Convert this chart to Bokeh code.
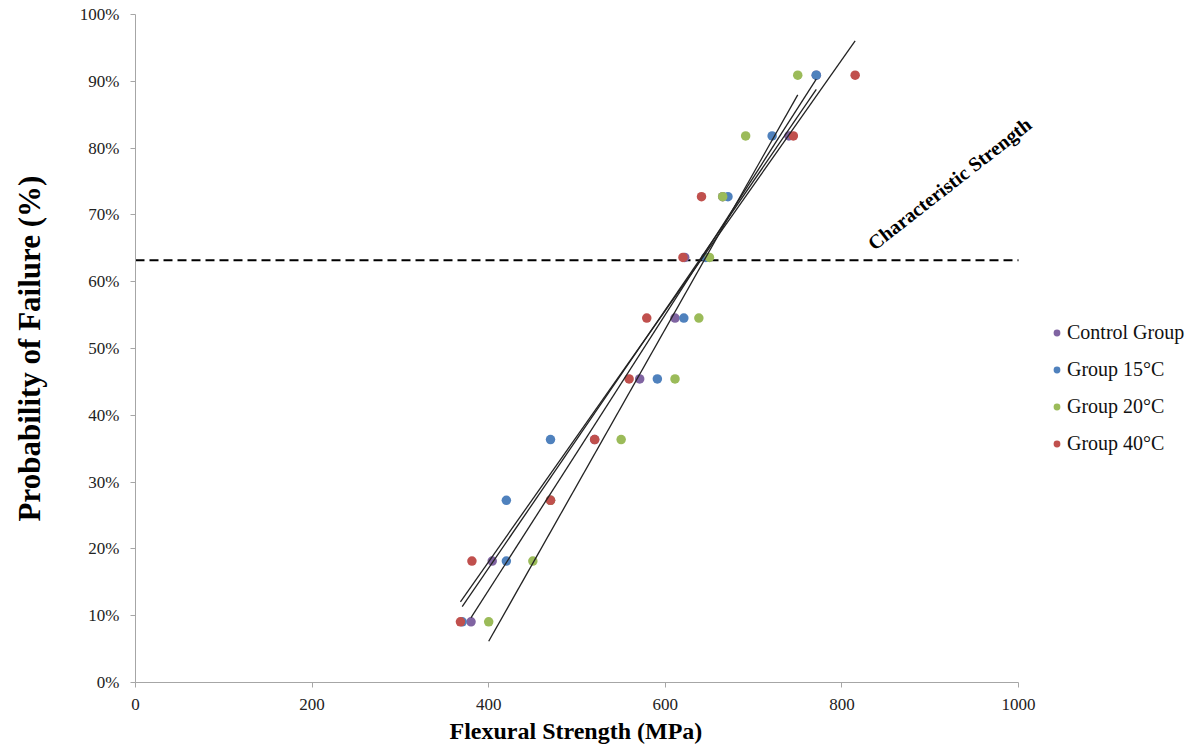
import numpy as np
from bokeh.plotting import figure
from bokeh.models import Range1d, FixedTicker, PrintfTickFormatter, Legend, LegendItem, Label, Title
from bokeh.embed import file_html
from bokeh.resources import INLINE

# ---- data ----
groups = ["Control Group", "Group 15°C", "Group 20°C", "Group 40°C"]
colors = ["#8064A2", "#4F81BD", "#9BBB59", "#C0504D"]
prob_failure = [9.09, 18.18, 27.27, 36.36, 45.45, 54.55, 63.64, 72.73, 81.82, 90.91]
control = [380, 404, 470, 520, 571, 611, 622, 665, 740, 771]
group15 = [370, 420, 420, 470, 591, 621, 646, 671, 721, 771]
group20 = [400, 450, 470, 550, 611, 638, 650, 665, 691, 750]
group40 = [368, 381, 470, 520, 559, 579, 620, 641, 745, 815]
characteristic_level = 63.2
x_ticks = [0, 200, 400, 600, 800, 1000]
y_ticks = [0, 10, 20, 30, 40, 50, 60, 70, 80, 90, 100]
annotation_text = "Characteristic Strength"
annotation_x = 832
annotation_y = 65.4

series = [control, group15, group20, group40]
SERIF = "Liberation Serif"

# the plotting area (0..1000 MPa) is 883 px wide; the frame is widened to the right
# so that the legend and the rotated label are drawn without being clipped
axis_px = 883
frame_px = 1052
x_max = x_ticks[-1] * frame_px / axis_px

p = figure(frame_width=frame_px, frame_height=668,
           min_border_left=135, min_border_right=0, min_border_top=14, min_border_bottom=0,
           x_range=Range1d(0, x_max), y_range=Range1d(0, 100),
           output_backend="svg", toolbar_location=None)
p.grid.visible = False
p.outline_line_color = None
p.background_fill_color = "white"
p.border_fill_color = "white"

for ax in (p.xaxis[0], p.yaxis[0]):
    ax.axis_line_color = "#a6a6a6"
    ax.major_tick_line_color = "#a6a6a6"
    ax.minor_tick_line_color = None
    ax.major_tick_in = 0
    ax.major_tick_out = 5
    ax.major_label_text_font = SERIF
    ax.major_label_text_font_size = "17px"
    ax.major_label_text_color = "#222222"
    ax.axis_label_text_font = SERIF
    ax.axis_label_text_font_style = "bold"
    ax.axis_label_text_color = "#000000"

p.xaxis.bounds = (x_ticks[0], x_ticks[-1])
p.xaxis.ticker = FixedTicker(ticks=x_ticks)
p.yaxis.ticker = FixedTicker(ticks=y_ticks)
p.yaxis.formatter = PrintfTickFormatter(format="%d%%")
p.yaxis.axis_label = "Probability of Failure (%)"
p.yaxis.axis_label_text_font_size = "31px"
p.xaxis.major_label_standoff = 11
p.yaxis.major_label_standoff = 11
p.yaxis.axis_label_standoff = 30

# x-axis title, centred under the 0..1000 axis rather than the widened frame
p.add_layout(Title(text="Flexural Strength (MPa)", align="left", offset=314, standoff=6,
                   text_font=SERIF, text_font_style="bold", text_font_size="24px",
                   text_color="#000000"), "below")

p.line([x_ticks[0], x_ticks[-1]], [characteristic_level, characteristic_level],
       line_color="black", line_width=2, line_dash="9 5")

items = []
for name, col, xs in zip(groups, colors, series):
    r = p.scatter(xs, prob_failure, size=9.5, fill_color=col, line_color=None)
    items.append(LegendItem(label=name, renderers=[r]))

for xs in series:
    xa = np.array(xs, dtype=float)
    ya = np.array(prob_failure)
    m, b = np.polyfit(xa, ya, 1)
    x_line = [xa.min(), xa.max()]
    p.line(x_line, [m * x_line[0] + b, m * x_line[1] + b], line_color="#222222", line_width=1.3)

p.add_layout(Label(x=annotation_x, y=annotation_y, text=annotation_text, angle=38, angle_units="deg",
                   text_font=SERIF, text_font_style="bold", text_font_size="20px",
                   text_align="left", text_baseline="alphabetic", text_color="black"))

legend = Legend(items=items, location=(913, 227), orientation="vertical",
                glyph_width=17, glyph_height=17, label_height=20, label_standoff=2,
                spacing=14, padding=0, margin=0,
                label_text_font=SERIF, label_text_font_size="20px", label_text_color="#111111",
                border_line_color=None, background_fill_alpha=0)
p.add_layout(legend, "center")

open("out.html", "w").write(file_html(p, INLINE))
